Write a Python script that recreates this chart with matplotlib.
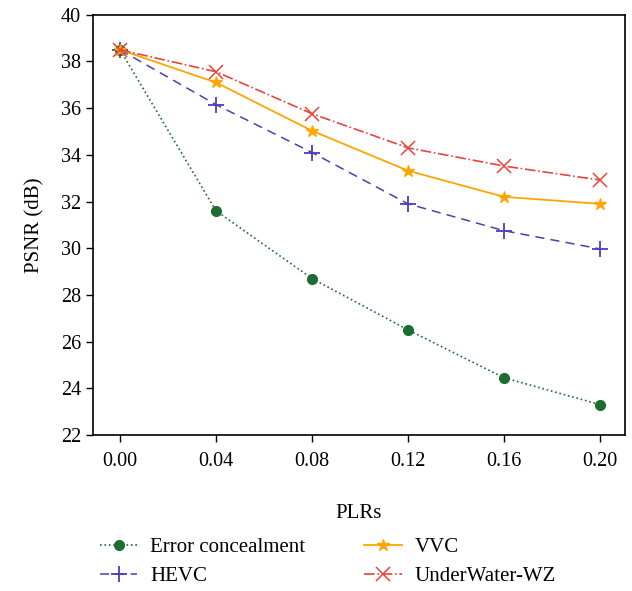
import matplotlib
matplotlib.use("Agg")
import matplotlib.pyplot as plt

plt.rcParams['font.family'] = ['Liberation Serif', 'DejaVu Serif']

plrs = [0.00, 0.04, 0.08, 0.12, 0.16, 0.20]
error_concealment = [38.5, 31.6, 28.7, 26.5, 24.45, 23.3]
hevc = [38.5, 36.15, 34.1, 31.9, 30.75, 29.97]
vvc = [38.5, 37.1, 35.03, 33.32, 32.2, 31.9]
underwater_wz = [38.5, 37.56, 35.76, 34.3, 33.52, 32.92]
xticks = [0.00, 0.04, 0.08, 0.12, 0.16, 0.20]
xticklabels = ["0.00", "0.04", "0.08", "0.12", "0.16", "0.20"]
yticks = [22, 24, 26, 28, 30, 32, 34, 36, 38, 40]

fig = plt.figure(figsize=(6.32, 5.91), dpi=100)
ax = fig.add_axes([0.147, 0.264, 0.842, 0.711])

ax.plot(plrs, error_concealment, linestyle=':', color='#1b6e2f', marker='o',
        markersize=7, linewidth=1.2, label='Error concealment')
ax.plot(plrs, hevc, linestyle=(0, (6, 4)), color='#4a3fb3', marker='+',
        markersize=11, markeredgewidth=1.3, linewidth=1.1, label='HEVC')
ax.plot(plrs, vvc, linestyle='-', color='#ffa500', marker='*',
        markersize=9, linewidth=1.3, label='VVC')
ax.plot(plrs, underwater_wz, linestyle='-.', color='#e8433d', marker='x',
        markersize=10, markeredgewidth=1.1, linewidth=1.2, label='UnderWater-WZ')

ax.set_xlim(-0.0113, 0.2104)
ax.set_ylim(22, 40)
ax.set_xticks(xticks)
ax.set_xticklabels(xticklabels)
ax.set_yticks(yticks)
ax.tick_params(axis='both', labelsize=14.5, direction='out', length=5, width=1)
ax.tick_params(axis='x', pad=7)
for s in ax.spines.values():
    s.set_linewidth(1.2)

ax.set_xlabel('PLRs', fontsize=15, labelpad=24)
ax.set_ylabel('PSNR (dB)', fontsize=15, labelpad=12)

fig.legend(loc='upper left', bbox_to_anchor=(0.145, 0.105), ncol=2,
           frameon=False, fontsize=15, handlelength=1.8, columnspacing=2.85,
           labelspacing=0.45, handletextpad=0.6, borderaxespad=0)

fig.savefig('out.png', dpi=100)
